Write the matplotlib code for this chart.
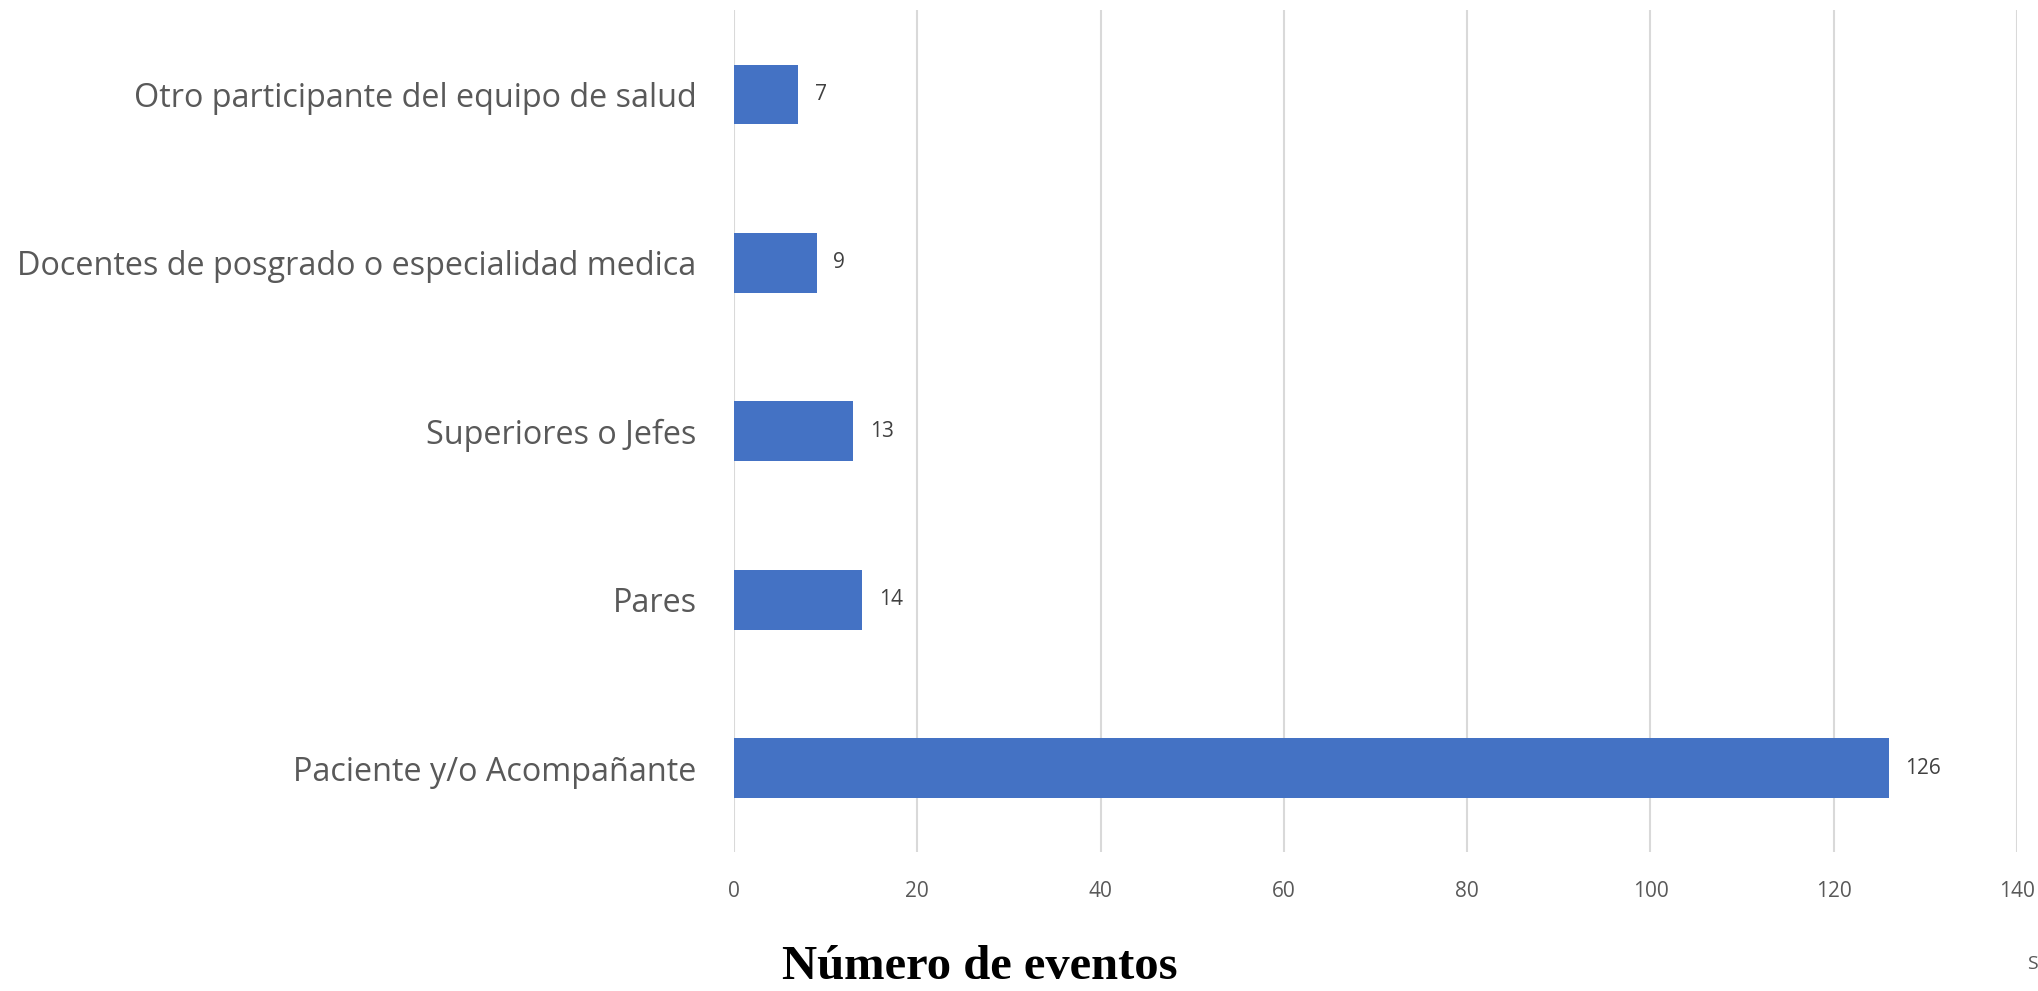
import matplotlib.pyplot as plt

categorias = ['Paciente y/o Acompañante', 'Pares', 'Superiores o Jefes',
              'Docentes de posgrado o especialidad medica',
              'Otro participante del equipo de salud']
eventos = [126, 14, 13, 9, 7]
ticks_x = [0, 20, 40, 60, 80, 100, 120, 140]

plt.rcParams['font.family'] = ['Open Sans', 'DejaVu Sans']

fig = plt.figure(figsize=(20.38, 9.91), dpi=100)
ax = fig.add_axes([0.3602, 0.1400, 0.6295, 0.8496])

pos = range(len(categorias))
barras = ax.barh(pos, eventos, height=0.355, color='#4472C4', zorder=3)
for b, v in zip(barras, eventos):
    ax.annotate(str(v), (b.get_width(), b.get_y() + b.get_height() / 2),
                xytext=(12, 0), textcoords='offset points', va='center', ha='left',
                fontsize=15, color='#404040')

ax.set_xlim(0, 140)
ax.set_ylim(-0.5, 4.5)
ax.set_xticks(ticks_x)
ax.set_xticklabels([str(t) for t in ticks_x], fontsize=15, color='#595959')
ax.set_yticks(list(pos))
ax.set_yticklabels(categorias, fontsize=23.3, color='#595959')
ax.tick_params(axis='x', length=0, pad=21)
ax.tick_params(axis='y', length=0, pad=27)
ax.grid(axis='x', color='#d9d9d9', linewidth=1.5, zorder=0)
for s in ax.spines.values():
    s.set_visible(False)

fig.text(0.481, 0.012, 'Número de eventos', ha='center', va='baseline',
         fontsize=35, fontweight='bold', family='Liberation Serif', color='black')
fig.text(0.997, 0.027, 'S', ha='center', va='center', fontsize=14, color='#595959')

fig.savefig('out.png', dpi=100)
